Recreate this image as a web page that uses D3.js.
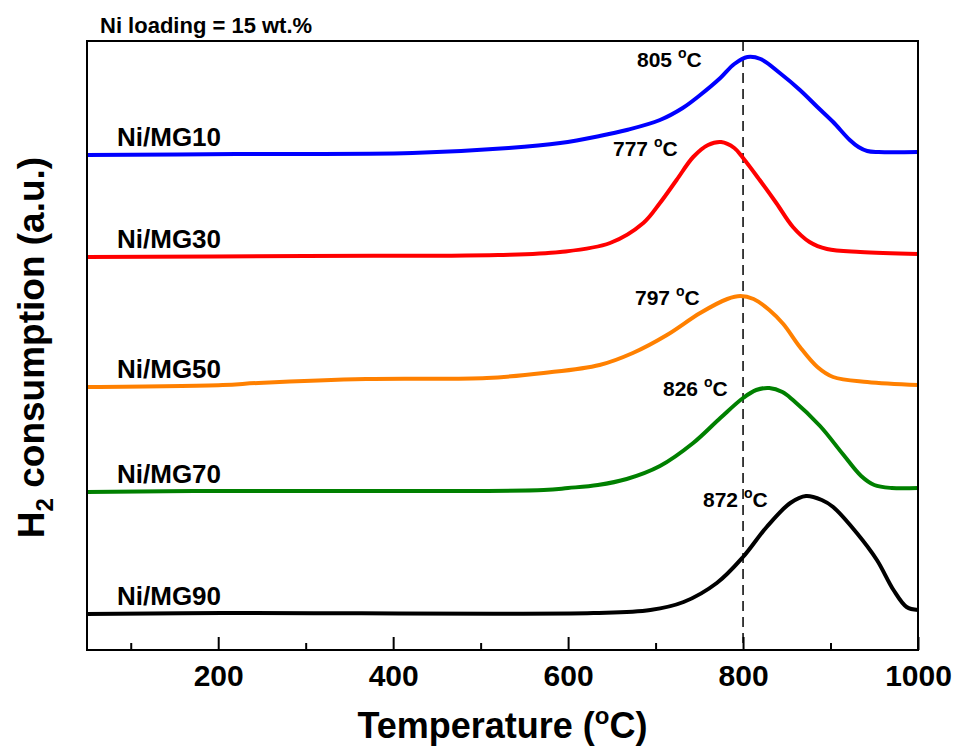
<!DOCTYPE html>
<html>
<head>
<meta charset="utf-8">
<script src="https://cdn.jsdelivr.net/npm/d3@7"></script>
<style>
  body { margin: 0; background: #fff; }
  text { font-family: "Liberation Sans", Arial, sans-serif; font-weight: bold; fill: #000; }
</style>
</head>
<body>
<div id="chart"></div>
<script>
// samples, colours and reduction peak temperatures
var samples = ["Ni/MG10", "Ni/MG30", "Ni/MG50", "Ni/MG70", "Ni/MG90"];
var colors = ["#0000ff", "#ff0000", "#ff8000", "#008000", "#000000"];
var peakTemps = [805, 777, 797, 826, 872];
var xTicks = [200, 400, 600, 800, 1000];
var xMinorTicks = [100, 300, 500, 700, 900];

// H2 consumption traces [temperature, signal (a.u., offset stacked)]
var mg10 = [[50,495],[221,496],[422,497],[532,502],[591,507],[636,514],[667,520],[705,530],[731,542],[751,555],[774,572],[790,586],[805,593],[820,591],[842,577],[865,560],[885,543],[903,528],[922,510],[932,503],[942,499],[955,498],[1000,498]];
var mg30 = [[50,393],[300,394],[520,395],[591,398],[648,407],[686,427],[705,447],[724,470],[743,493],[760,505],[775,508],[790,502],[800,492],[819,470],[838,447],[857,423],[876,408],[896,401],[934,398],[1000,396]];
var mg50 = [[50,263],[205,265],[246,267],[369,271],[507,272],[572,277],[636,285],[674,297],[713,315],[751,337],[782,351],[797,354],[812,351],[830,340],[846,326],[865,303],[885,283],[903,273],[942,268],[1000,265]];
var mg70 = [[50,158],[172,159],[572,160],[600,162],[634,165],[667,171],[705,184],[743,207],[774,232],[800,252],[815,260],[830,262],[845,258],[857,250],[888,224],[914,196],[935,174],[950,165],[970,162],[1000,162]];
var mg90 = [[50,36],[205,37],[629,37],[694,40],[732,48],[770,67],[800,93],[827,123],[854,147],[872,154],[890,150],[903,143],[930,117],[953,90],[972,60],[987,43],[1000,40]];
var series = [mg10, mg30, mg50, mg70, mg90];

var margin = { top: 41, right: 38, bottom: 97, left: 87 },
  width = 956 - margin.left - margin.right,
  height = 747 - margin.top - margin.bottom;

var svg = d3.select("#chart")
  .append("svg")
  .attr("width", 956)
  .attr("height", 747);

var chart = svg.append("g")
  .attr("transform", "translate(" + margin.left + "," + margin.top + ")");

var x = d3.scaleLinear().domain([50, 1000]).range([0, width]);
var y = d3.scaleLinear().domain([0, 609]).range([height, 0]);

// x axis, ticks pointing inward
var xAxis = chart.append("g")
  .attr("transform", "translate(0," + height + ")")
  .call(d3.axisBottom(x).tickValues(xTicks).tickFormat(d3.format("d"))
    .tickSizeInner(-13).tickSizeOuter(0).tickPadding(15));
xAxis.select(".domain").remove();
xAxis.selectAll("line").attr("stroke", "#000").attr("stroke-width", 2);
xAxis.selectAll("text")
  .style("font-family", "'Liberation Sans', Arial, sans-serif")
  .style("font-weight", "bold")
  .style("font-size", "30px");

var xMinor = chart.append("g")
  .attr("transform", "translate(0," + height + ")")
  .call(d3.axisBottom(x).tickValues(xMinorTicks).tickSizeInner(-7).tickSizeOuter(0).tickFormat(""));
xMinor.select(".domain").remove();
xMinor.selectAll("line").attr("stroke", "#000").attr("stroke-width", 2);

// dashed reference line at 800 C
chart.append("line")
  .attr("x1", x(800)).attr("x2", x(800))
  .attr("y1", 0).attr("y2", height)
  .attr("stroke", "#000")
  .attr("stroke-width", 1.5)
  .attr("stroke-dasharray", "10,6");

// traces
var line = d3.line()
  .x(function (d) { return x(d[0]); })
  .y(function (d) { return y(d[1]); })
  .curve(d3.curveCatmullRom.alpha(0.5));

series.forEach(function (s, i) {
  chart.append("path")
    .datum(s)
    .attr("fill", "none")
    .attr("stroke", colors[i])
    .attr("stroke-width", 4)
    .attr("stroke-linejoin", "round")
    .attr("d", line);
});

// frame
chart.append("rect")
  .attr("width", width)
  .attr("height", height)
  .attr("fill", "none")
  .attr("stroke", "#000")
  .attr("stroke-width", 2);

// sample names, placed just above each baseline
series.forEach(function (s, i) {
  chart.append("text")
    .attr("x", 30)
    .attr("y", y(s[0][1]) - 9)
    .style("font-size", "26px")
    .text(samples[i]);
});

// peak labels
var peakPos = [[550, 26], [526, 115], [548, 264], [576, 355], [616, 466]];
peakTemps.forEach(function (t, i) {
  var lab = chart.append("text")
    .attr("x", peakPos[i][0])
    .attr("y", peakPos[i][1])
    .style("font-size", "21px");
  lab.append("tspan").text(t + " ");
  lab.append("tspan").attr("dy", -9).style("font-size", "14px").text("o");
  lab.append("tspan").attr("dy", 9).text("C");
});

// titles
svg.append("text")
  .attr("x", 100)
  .attr("y", 33)
  .style("font-size", "22px")
  .text("Ni loading = 15 wt.%");

var xt = svg.append("text")
  .attr("x", margin.left + width / 2)
  .attr("y", 738)
  .attr("text-anchor", "middle")
  .style("font-size", "36px");
xt.append("tspan").text("Temperature (");
xt.append("tspan").attr("dy", -14).style("font-size", "24px").text("o");
xt.append("tspan").attr("dy", 14).text("C)");

var yt = svg.append("text")
  .attr("transform", "translate(44," + (margin.top + height / 2 + 2) + ") rotate(-90)")
  .attr("text-anchor", "middle")
  .style("font-size", "37px");
yt.append("tspan").text("H");
yt.append("tspan").attr("dy", 9).style("font-size", "24px").text("2");
yt.append("tspan").attr("dy", -9).text(" consumption (a.u.)");
</script>
</body>
</html>
